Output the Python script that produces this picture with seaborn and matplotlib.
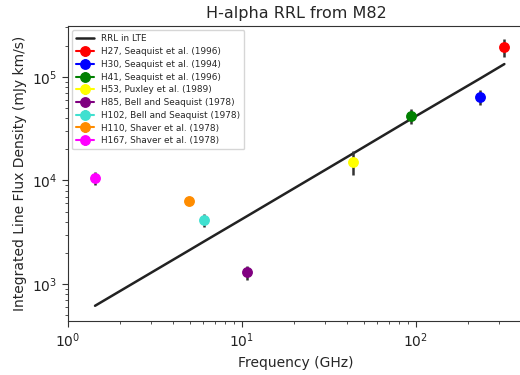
import numpy as np
import pandas as pd
import matplotlib
matplotlib.use("Agg")
import matplotlib.pyplot as plt
import seaborn as sns

# data
labels = ["H27, Seaquist et al. (1996)", "H30, Seaquist et al. (1994)",
          "H41, Seaquist et al. (1996)", "H53, Puxley et al. (1989)",
          "H85, Bell and Seaquist (1978)", "H102, Bell and Seaquist (1978)",
          "H110, Shaver et al. (1978)", "H167, Shaver et al. (1978)"]
freq = [322.0, 233.0, 94.0, 43.4, 10.7, 6.05, 4.96, 1.43]
flux = [194000, 64000, 42000, 15200, 1300, 4120, 6300, 10500]
flux_err = [40000, 11000, 7000, 4000, 200, 600, 250, 1500]
colors = ["red", "blue", "green", "yellow", "purple", "turquoise", "darkorange", "magenta"]

lte_freq = [1.43, 4.96, 6.05, 10.7, 43.4, 94.0, 233.0, 322.0]
lte_flux = [617, 2115, 2578, 4530, 18200, 39400, 96200, 133000]

sns.set_style("ticks")
plt.rcParams["font.family"] = ["DejaVu Sans"]

fig = plt.figure(figsize=(5.2, 3.75), dpi=100)
ax = fig.add_axes([68 / 520, (375 - 321) / 375, (524 - 68) / 520, (321 - 26) / 375])

lte = pd.DataFrame({"freq": lte_freq, "flux": lte_flux})
sns.lineplot(data=lte, x="freq", y="flux", ax=ax, color="#222222", lw=1.8,
             label="RRL in LTE", sort=True)

for f, s, e, c, lab in zip(freq, flux, flux_err, colors, labels):
    ax.errorbar(f, s, yerr=e, fmt="-o", color=c, ecolor="#333333",
                elinewidth=1.8, markersize=6.8, label=lab)

ax.set_xscale("log")
ax.set_yscale("log")
ax.set_xlim(1, 10 ** ((524 - 68) / 174))
ax.set_ylim(440, 310000)
ax.tick_params(which="both", direction="out", colors="#333333", labelcolor="#222222")
ax.tick_params(which="major", length=4)
ax.tick_params(which="minor", length=2.5)
for sp in ax.spines.values():
    sp.set_color("#333333")

ax.set_title("H-alpha RRL from M82", fontsize=11.5)
ax.set_xlabel("Frequency (GHz)", fontsize=10)
ax.set_ylabel("Integrated Line Flux Density (mJy km/s)", fontsize=10)
ax.legend(loc="upper left", fontsize=6.4, labelspacing=0.42, borderpad=0.45,
          handlelength=2.0, frameon=True)

fig.savefig("out.png", dpi=100)
